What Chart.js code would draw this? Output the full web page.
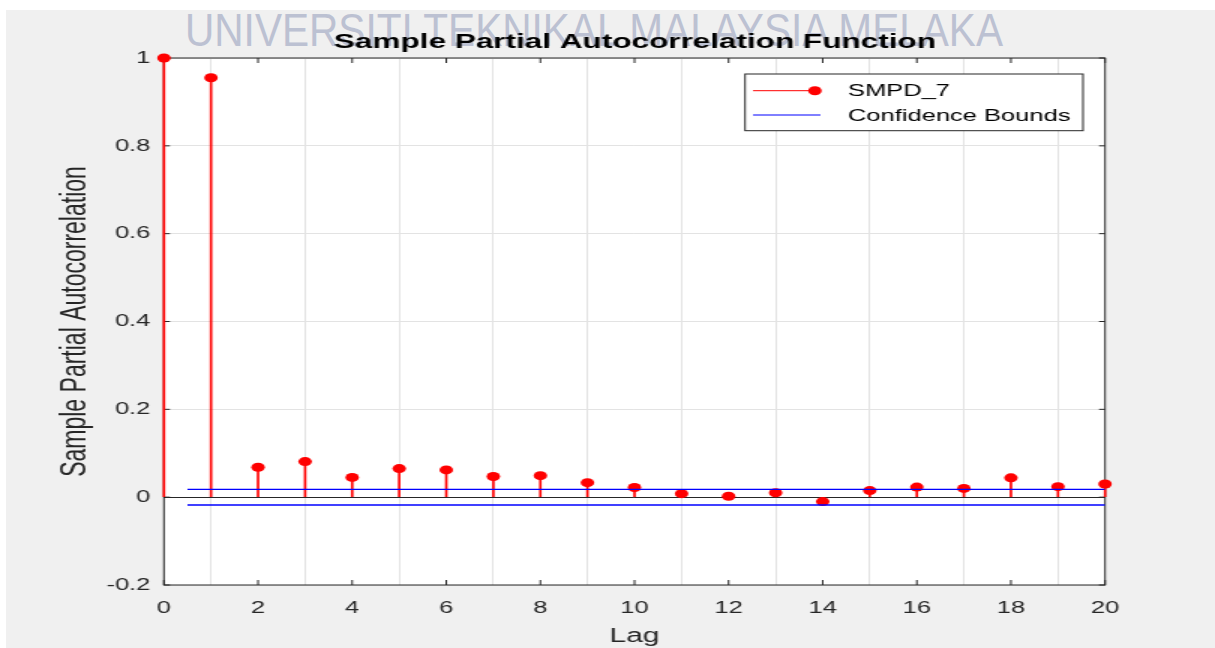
<!DOCTYPE html>
<html>
<head>
<meta charset="utf-8">
<title>Sample Partial Autocorrelation Function</title>
<script src="https://cdn.jsdelivr.net/npm/chart.js@4.4.1/dist/chart.umd.min.js"></script>
<style>
  html, body { margin: 0; padding: 0; background: #fff; overflow: hidden; }
  body { width: 1215px; height: 648px; position: relative; }
  #fondo { position: absolute; left: 6px; top: 10px; right: 0; bottom: 0; background: #f0f0f0; }
  #marca {
    position: absolute; left: 185px; top: 7px;
    font-family: 'Liberation Sans', Arial, sans-serif; font-size: 46px; line-height: 46px;
    color: #bcc1d2; white-space: nowrap; transform-origin: 0 0;
  }
  /* la imagen original esta estirada en horizontal, asi que estiramos el canvas igual */
  #envoltura { position: absolute; left: 0; top: 0; width: 810px; height: 648px; transform: scaleX(1.5); transform-origin: 0 0; }
</style>
</head>
<body>
<div id="fondo"></div>
<span id="marca">UNIVERSITI TEKNIKAL MALAYSIA MELAKA</span>
<div id="envoltura"><canvas id="grafico" width="810" height="648"></canvas></div>
<script>
// --- DATOS ---
const lags = [0, 1, 2, 3, 4, 5, 6, 7, 8, 9, 10, 11, 12, 13, 14, 15, 16, 17, 18, 19, 20];
const pacf = [1, 0.955, 0.068, 0.081, 0.045, 0.065, 0.062, 0.047, 0.049, 0.033, 0.022,
              0.008, 0.002, 0.010, -0.010, 0.015, 0.023, 0.020, 0.044, 0.024, 0.030];
const limiteConfianza = 0.0178;
const lagsLimite = [0.5, 20];
const xTicks = [0, 2, 4, 6, 8, 10, 12, 14, 16, 18, 20];
const yTicks = [-0.2, 0, 0.2, 0.4, 0.6, 0.8, 1];
const yTickLabels = ['-0.2', '0', '0.2', '0.4', '0.6', '0.8', '1'];

const serieNombre = 'SMPD_7';
const limiteNombre = 'Confidence Bounds';

const FUENTE = "'Liberation Sans', Arial, Helvetica, sans-serif";
const EJE = '#262626';
const ROJO = '#ff0000';
const AZUL = '#0000ff';

// marca de agua: ajustar ancho
const marca = document.getElementById('marca');
marca.style.transform = 'scaleX(' + (818 / marca.getBoundingClientRect().width) + ')';

// fondo blanco del area del grafico
const fondoArea = {
  id: 'fondoArea',
  beforeDraw(chart) {
    const { ctx, chartArea: a } = chart;
    ctx.save();
    ctx.fillStyle = '#fff';
    ctx.fillRect(a.left, a.top, a.right - a.left, a.bottom - a.top);
    ctx.restore();
  }
};

// caja de ejes + marcas hacia adentro (estilo MATLAB)
const marco = {
  id: 'marco',
  beforeDatasetsDraw(chart) {
    const { ctx, chartArea: a, scales } = chart;
    ctx.save();
    ctx.strokeStyle = EJE;
    ctx.lineWidth = 1;
    ctx.strokeRect(a.left, a.top, a.right - a.left, a.bottom - a.top);
    ctx.beginPath();
    xTicks.forEach(v => {
      const px = scales.x.getPixelForValue(v);
      ctx.moveTo(px, a.bottom); ctx.lineTo(px, a.bottom - 5);
      ctx.moveTo(px, a.top); ctx.lineTo(px, a.top + 5);
    });
    yTicks.forEach(v => {
      const py = scales.y.getPixelForValue(v);
      ctx.moveTo(a.left, py); ctx.lineTo(a.left + 4, py);
      ctx.moveTo(a.right, py); ctx.lineTo(a.right - 4, py);
    });
    ctx.stroke();
    ctx.restore();
  }
};

// leyenda con recuadro
const leyendaCaja = {
  id: 'leyendaCaja',
  afterDraw(chart) {
    const { ctx, chartArea: a } = chart;
    const w = 225.3, h = 56.7;
    const x = a.right - 14.7 - w, y = a.top + 16;
    ctx.save();
    ctx.fillStyle = '#fff';
    ctx.fillRect(x, y, w, h);
    ctx.strokeStyle = EJE;
    ctx.lineWidth = 1;
    ctx.strokeRect(x, y, w, h);

    const filas = [
      { texto: chart.data.datasets[1].label, color: ROJO, punto: true, yy: y + 16.7 },
      { texto: chart.data.datasets[2].label, color: AZUL, punto: false, yy: y + 41 }
    ];
    ctx.font = '17px ' + FUENTE;
    ctx.textBaseline = 'middle';
    ctx.textAlign = 'left';
    filas.forEach(f => {
      ctx.strokeStyle = f.color;
      ctx.lineWidth = 1;
      ctx.beginPath();
      ctx.moveTo(x + 5.3, f.yy);
      ctx.lineTo(x + (f.punto ? 46.6 : 50.3), f.yy);
      ctx.stroke();
      if (f.punto) {
        ctx.fillStyle = f.color;
        ctx.beginPath();
        ctx.arc(x + 46.6, f.yy, 4.5, 0, Math.PI * 2);
        ctx.fill();
      }
      ctx.fillStyle = '#000';
      ctx.fillText(f.texto, x + 68.6, f.yy + 1);
    });
    ctx.restore();
  }
};

const puntos = lags.map((l, i) => ({ x: l, y: pacf[i] }));

new Chart(document.getElementById('grafico'), {
  type: 'scatter',
  data: {
    datasets: [
      { // tallos
        type: 'bar', label: serieNombre, data: puntos,
        backgroundColor: ROJO, borderWidth: 0, barThickness: 1, grouped: false,
        order: 2, clip: false
      },
      { // marcadores
        type: 'scatter', label: serieNombre, data: puntos,
        backgroundColor: ROJO, borderWidth: 0, pointRadius: 4.5, pointHoverRadius: 4.5,
        order: 1, clip: false
      },
      {
        type: 'line', label: limiteNombre,
        data: lagsLimite.map(l => ({ x: l, y: limiteConfianza })),
        borderColor: AZUL, borderWidth: 1.3, pointRadius: 0, order: 0
      },
      {
        type: 'line', label: limiteNombre,
        data: lagsLimite.map(l => ({ x: l, y: -limiteConfianza })),
        borderColor: AZUL, borderWidth: 1.3, pointRadius: 0, order: 0
      }
    ]
  },
  options: {
    responsive: false,
    animation: false,
    devicePixelRatio: 1,
    layout: { padding: { left: 36.6, right: 0, top: 0, bottom: 0 } },
    plugins: {
      legend: { display: false },
      tooltip: { enabled: false },
      title: {
        display: true,
        text: 'Sample Partial Autocorrelation Function',
        color: '#000',
        font: { family: FUENTE, size: 21, weight: 'bold' },
        padding: { top: 29.6, bottom: 3.2 }
      }
    },
    scales: {
      x: {
        type: 'linear', min: 0, max: 20, offset: false,
        afterBuildTicks: s => { s.ticks = xTicks.map(v => ({ value: v })); },
        afterFit: s => { s.height = 63; },
        grid: { color: '#e3e3e3', drawTicks: false },
        border: { display: false },
        ticks: { color: EJE, padding: 13, font: { family: FUENTE, size: 17 }, callback: v => String(v) },
        title: { display: true, text: 'Lag', color: EJE, font: { family: FUENTE, size: 20 }, padding: { top: 0, bottom: 0 } }
      },
      y: {
        min: -0.2, max: 1,
        afterBuildTicks: s => { s.ticks = yTicks.map(v => ({ value: v })); },
        afterFit: s => { s.width = 72.7; },
        grid: {
          drawTicks: false,
          color: c => (c.tick && c.tick.value === 0 ? EJE : '#e3e3e3')
        },
        border: { display: false },
        ticks: {
          color: EJE, padding: 9, font: { family: FUENTE, size: 17 },
          callback: (v, i) => yTickLabels[i]
        },
        title: { display: true, text: 'Sample Partial Autocorrelation', color: EJE, font: { family: FUENTE, size: 23 }, padding: { top: 0, bottom: 0 } }
      },
      // eje vacio a la derecha solo para reservar el margen
      margenDerecho: {
        type: 'linear', position: 'right', display: true,
        afterFit: s => { s.width = 73.3; },
        grid: { display: false, drawTicks: false },
        border: { display: false },
        ticks: { display: false }
      }
    }
  },
  plugins: [fondoArea, marco, leyendaCaja]
});
</script>
</body>
</html>
